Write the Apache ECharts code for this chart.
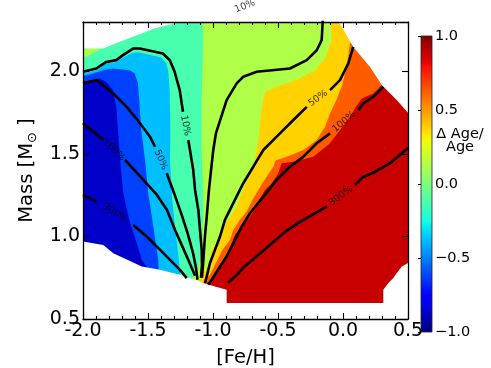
<!DOCTYPE html>
<html>
<head>
<meta charset="utf-8">
<script src="https://cdn.jsdelivr.net/npm/echarts@6/dist/echarts.min.js"></script>
<style>
  html, body { margin: 0; padding: 0; background: #fff; }
  #main { width: 491px; height: 368px; }
</style>
</head>
<body>
<div id="main"></div>
<script>
  // contourf levels of Δ Age/Age (8 bands)
  var levels = [-1.0, -0.75, -0.5, -0.25, 0.0, 0.25, 0.5, 0.75, 1.0];

  // filled regions, [Fe/H, Mass]
  var regionBelowM025 = [[-2.1, 1.99], [-2.0, 1.988], [-1.898, 2.008], [-1.821, 2.049], [-1.744, 2.058], [-1.692, 2.085], [-1.615, 2.115], [-1.564, 2.115], [-1.398, 2.085], [-1.359, 2.05], [-1.344, 1.998], [-1.333, 1.887], [-1.328, 1.645], [-1.331, 1.464], [-1.318, 1.262], [-1.292, 1.06], [-1.254, 0.798], [-1.24, 0.4], [-2.1, 0.4]];
  var regionBelowM050 = [[-2.1, 1.972], [-2.0, 1.972], [-1.923, 1.988], [-1.846, 2.008], [-1.769, 2.018], [-1.641, 2.008], [-1.602, 1.988], [-1.577, 1.928], [-1.564, 1.786], [-1.552, 1.645], [-1.523, 1.464], [-1.498, 1.262], [-1.459, 1.06], [-1.421, 0.859], [-1.4, 0.4], [-2.1, 0.4]];
  var regionBelowM075 = [[-2.1, 1.937], [-2.0, 1.937], [-1.872, 1.958], [-1.821, 1.937], [-1.769, 1.886], [-1.744, 1.786], [-1.731, 1.645], [-1.715, 1.464], [-1.7, 1.342], [-1.69, 1.262], [-1.638, 1.081], [-1.587, 0.96], [-1.548, 0.859], [-1.51, 0.818], [-1.5, 0.4], [-2.1, 0.4]];
  var regionAbove000 = [[-1.08, 2.4], [-1.087, 2.3], [-1.075, 2.23], [-1.087, 1.827], [-1.087, 1.524], [-1.079, 1.323], [-1.075, 1.121], [-1.087, 0.93], [-1.11, 0.81], [-1.15, 0.76], [-1.165, 0.727], [-1.17, 0.4], [0.6, 0.4], [0.6, 2.4]];
  var patchAbove000 = [[-2.1, 2.14], [-1.86, 2.14], [-1.95, 2.1], [-2.1, 2.05]];
  var regionAbove025 = [[-0.1, 2.4], [-0.1, 2.3], [-0.087, 2.19], [-0.138, 2.079], [-0.215, 2.008], [-0.356, 1.948], [-0.51, 1.907], [-0.6, 1.877], [-0.625, 1.786], [-0.651, 1.585], [-0.677, 1.464], [-0.69, 1.403], [-0.715, 1.383], [-0.779, 1.262], [-0.818, 1.181], [-0.882, 1.101], [-0.933, 1.04], [-0.959, 0.98], [-0.985, 0.95], [-1.01, 0.909], [-1.036, 0.828], [-1.075, 0.768], [-1.113, 0.727], [-1.12, 0.4], [0.6, 0.4], [0.6, 2.4]];
  var regionAbove050 = [[0.1, 2.4], [0.1, 2.3], [0.054, 2.17], [0.028, 2.028], [-0.01, 1.907], [-0.048, 1.832], [-0.1, 1.746], [-0.138, 1.665], [-0.202, 1.585], [-0.305, 1.524], [-0.433, 1.484], [-0.52, 1.46], [-0.536, 1.423], [-0.587, 1.363], [-0.651, 1.282], [-0.69, 1.232], [-0.741, 1.151], [-0.792, 1.101], [-0.844, 1.04], [-0.869, 0.98], [-0.93, 0.915], [-0.985, 0.828], [-1.023, 0.768], [-1.075, 0.718], [-1.09, 0.4], [0.6, 0.4], [0.6, 2.4]];
  var regionAbove075 = [[0.4, 2.1], [0.298, 1.918], [0.233, 1.867], [0.144, 1.837], [0.1, 1.786], [0.054, 1.726], [-0.023, 1.645], [-0.1, 1.565], [-0.228, 1.484], [-0.382, 1.453], [-0.472, 1.444], [-0.498, 1.383], [-0.548, 1.323], [-0.6, 1.282], [-0.638, 1.232], [-0.664, 1.181], [-0.715, 1.121], [-0.754, 1.081], [-0.792, 1.05], [-0.831, 1.01], [-0.856, 0.96], [-0.88, 0.91], [-0.933, 0.828], [-0.959, 0.788], [-1.01, 0.738], [-1.048, 0.718], [-1.06, 0.4], [0.6, 0.4], [0.6, 2.1]];

  // edge of the area covered by the grid of models
  var edgeTopLeft = [[-2.0, 2.139], [-1.846, 2.139], [-1.75, 2.17], [-1.6, 2.215], [-1.45, 2.26], [-1.256, 2.3]];
  var edgeTopRight = [[-0.04, 2.3], [-0.023, 2.29], [0.079, 2.149], [0.208, 2.028], [0.298, 1.918], [0.413, 1.827], [0.5, 1.75]];
  var edgeBottom = [[-2.0, 0.969], [-1.844, 0.949], [-1.767, 0.899], [-1.548, 0.818], [-1.408, 0.798], [-1.254, 0.768], [-1.138, 0.738], [-1.077, 0.718], [-0.985, 0.697], [-0.895, 0.677], [-0.895, 0.597], [0.31, 0.597], [0.31, 0.677], [0.349, 0.718], [0.387, 0.748], [0.413, 0.778], [0.452, 0.818], [0.5, 0.839]];

  // contour lines (null = break for the inline label)
  var contour10L = [[-2.0, 1.998], [-1.898, 2.018], [-1.821, 2.058], [-1.744, 2.069], [-1.692, 2.099], [-1.615, 2.139], [-1.564, 2.139], [-1.385, 2.109], [-1.333, 2.069], [-1.295, 1.998], [-1.256, 1.887], [-1.231, 1.756], null, [-1.19, 1.585], [-1.152, 1.403], [-1.138, 1.282], [-1.113, 1.161], [-1.1, 1.04], [-1.087, 0.919], [-1.085, 0.828], [-1.092, 0.75]];
  var contour50L = [[-2.0, 1.928], [-1.895, 1.948], [-1.767, 1.867], [-1.664, 1.786], [-1.562, 1.686], [-1.485, 1.605], [-1.446, 1.544], null, [-1.356, 1.383], [-1.3, 1.264], [-1.246, 1.143], [-1.196, 1.022], [-1.154, 0.901], [-1.131, 0.81], [-1.119, 0.738]];
  var contour100L = [[-2.0, 1.686], [-1.844, 1.585], null, [-1.677, 1.464], [-1.536, 1.343], [-1.431, 1.252], [-1.354, 1.161], [-1.292, 1.04], [-1.231, 0.931], [-1.177, 0.835], [-1.138, 0.762]];
  var contour300L = [[-2.0, 1.252], [-1.895, 1.211], null, [-1.613, 1.07], [-1.51, 1.0], [-1.382, 0.899], [-1.254, 0.798], [-1.202, 0.748]];
  var contour10R = [[-0.155, 2.32], [-0.164, 2.19], [-0.202, 2.129], [-0.279, 2.069], [-0.408, 2.018], [-0.664, 1.998], [-0.767, 1.968], [-0.818, 1.928], [-0.895, 1.827], [-0.977, 1.627], [-0.998, 1.524], [-1.015, 1.403], [-1.031, 1.282], [-1.048, 1.121], [-1.062, 1.0], [-1.069, 0.919], [-1.075, 0.847], [-1.085, 0.75]];
  var contour50R = [[0.079, 2.149], [0.041, 2.049], [-0.023, 1.948], [-0.1, 1.887], null, [-0.279, 1.786], [-0.382, 1.706], [-0.485, 1.625], [-0.613, 1.524], [-0.69, 1.423], [-0.767, 1.323], [-0.844, 1.202], [-0.908, 1.101], [-0.946, 1.0], [-0.985, 0.919], [-1.023, 0.839], [-1.048, 0.758], [-1.062, 0.718]];
  var contour100R = [[0.31, 1.907], [0.233, 1.847], [0.156, 1.807], [0.118, 1.766], null, [-0.1, 1.625], [-0.202, 1.565], [-0.305, 1.484], [-0.408, 1.423], [-0.51, 1.343], [-0.613, 1.242], [-0.715, 1.141], [-0.779, 1.06], [-0.831, 0.98], [-0.895, 0.879], [-0.946, 0.818], [-1.01, 0.738], [-1.036, 0.708]];
  var contour300R = [[0.5, 1.536], [0.362, 1.444], [0.246, 1.391], [0.156, 1.361], [0.092, 1.312], null, [-0.125, 1.181], [-0.331, 1.089], [-0.446, 1.028], [-0.562, 0.949], [-0.677, 0.871], [-0.769, 0.81], [-0.823, 0.762], [-0.885, 0.72]];

  // inline contour labels
  var labelPos = [[-1.212, 1.672], [-1.402, 1.464], [-1.762, 1.524], [-1.754, 1.143], [-0.192, 1.837], [0.008, 1.695], [-0.015, 1.246], [-0.754, 2.395]];
  var labelText = ['10%', '50%', '100%', '300%', '50%', '100%', '300%', '10%'];
  var labelAngle = [-79, -66, -43, -32, 36, 40, 37, 22];

  // matplotlib 'jet'
  var jetR = [[0, 0], [0.35, 0], [0.66, 1], [0.89, 1], [1, 0.5]];
  var jetG = [[0, 0], [0.125, 0], [0.375, 1], [0.64, 1], [0.91, 0], [1, 0]];
  var jetB = [[0, 0.5], [0.11, 1], [0.34, 1], [0.65, 0], [1, 0]];
  function seg(pts, t) {
    for (var i = 1; i < pts.length; i++) {
      if (t <= pts[i][0]) {
        var a = pts[i - 1], b = pts[i];
        return a[1] + (b[1] - a[1]) * (t - a[0]) / (b[0] - a[0]);
      }
    }
    return pts[pts.length - 1][1];
  }
  function jet(t) {
    return 'rgb(' + [seg(jetR, t), seg(jetG, t), seg(jetB, t)].map(function (v) {
      return Math.round(v * 255);
    }).join(',') + ')';
  }
  var bandColors = [];
  for (var k = 0; k < levels.length - 1; k++) {
    bandColors.push(jet(((levels[k] + levels[k + 1]) / 2 + 1) / 2));
  }

  // paint order: lower bands on the left, upper bands on the right, then blank out
  var fills = [
    [regionBelowM025, bandColors[2]],
    [regionBelowM050, bandColors[1]],
    [regionBelowM075, bandColors[0]],
    [regionAbove000, bandColors[4]],
    [patchAbove000, bandColors[4]],
    [regionAbove025, bandColors[5]],
    [regionAbove050, bandColors[6]],
    [regionAbove075, bandColors[7]],
    [[[-2.1, 2.4], [-2.1, edgeTopLeft[0][1]]].concat(edgeTopLeft, [[edgeTopLeft[edgeTopLeft.length - 1][0], 2.4]]), '#fff'],
    [[[edgeTopRight[0][0], 2.4]].concat(edgeTopRight, [[0.6, edgeTopRight[edgeTopRight.length - 1][1]], [0.6, 2.4]]), '#fff'],
    [[[-2.1, edgeBottom[0][1]]].concat(edgeBottom, [[0.6, edgeBottom[edgeBottom.length - 1][1]], [0.6, 0.4], [-2.1, 0.4]]), '#fff']
  ];

  var font = 'DejaVu Sans';
  var series = [];

  series.push({
    type: 'custom',
    xAxisIndex: 0,
    yAxisIndex: 0,
    clip: true,
    silent: true,
    z: 1,
    data: [[-1, 1]],
    renderItem: function (params, api) {
      return {
        type: 'group',
        children: fills.map(function (f) {
          return {
            type: 'polygon',
            shape: { points: f[0].map(function (p) { return api.coord(p); }) },
            style: { fill: f[1], stroke: null }
          };
        })
      };
    }
  });

  [contour10L, contour50L, contour100L, contour300L, contour10R, contour50R, contour100R, contour300R].forEach(function (c) {
    var part = [];
    c.concat([null]).forEach(function (p) {
      if (p === null) {
        if (part.length) {
          series.push({
            type: 'line',
            xAxisIndex: 0,
            yAxisIndex: 0,
            data: part,
            showSymbol: false,
            symbol: 'none',
            clip: true,
            silent: true,
            z: 3,
            lineStyle: { color: '#000', width: 2.6 }
          });
        }
        part = [];
      } else {
        part.push(p);
      }
    });
  });

  series.push({
    type: 'scatter',
    xAxisIndex: 0,
    yAxisIndex: 0,
    clip: false,
    silent: true,
    z: 4,
    symbolSize: 1,
    itemStyle: { color: 'rgba(0,0,0,0)' },
    data: labelPos.map(function (p, i) {
      return {
        value: p,
        label: { show: true, position: 'inside', formatter: labelText[i], rotate: labelAngle[i] }
      };
    }),
    label: { show: true, color: '#000', fontSize: 9.5, fontFamily: font }
  });

  // colour bar
  var cbStops = [];
  for (var i = 0; i <= 64; i++) {
    cbStops.push({ offset: i / 64, color: jet(1 - i / 64) });
  }
  series.push({
    type: 'custom',
    xAxisIndex: 2,
    yAxisIndex: 2,
    silent: true,
    data: [[0.5, 0]],
    renderItem: function (params, api) {
      var a = api.coord([0, 1]);
      var b = api.coord([1, -1]);
      return {
        type: 'rect',
        shape: { x: a[0], y: a[1], width: b[0] - a[0], height: b[1] - a[1] },
        style: { fill: new echarts.graphic.LinearGradient(0, 0, 0, 1, cbStops), stroke: '#222', lineWidth: 0.8 }
      };
    }
  });

  var frameAxis = {
    axisLine: { show: true, onZero: false, lineStyle: { color: '#000', width: 1.3 } },
    axisTick: { show: true, inside: true, length: 6, lineStyle: { color: '#000', width: 1.1 } },
    splitLine: { show: false },
    z: 10
  };
  var tickLabel = { color: '#000', fontSize: 19, fontFamily: font, margin: 3, formatter: function (v) { return v.toFixed(1); } };

  var option = {
    animation: false,
    textStyle: { fontFamily: font },
    grid: [
      { left: 83, right: 83, top: 22, bottom: 49, show: true, backgroundColor: bandColors[3], borderWidth: 0, outerBoundsMode: 'none' },
      { left: 421, width: 11, top: 36, height: 296, outerBoundsMode: 'none' }
    ],
    xAxis: [
      Object.assign({
        gridIndex: 0, type: 'value', position: 'bottom', min: -2, max: 0.5, interval: 0.5,
        minorTick: { show: true, splitNumber: 5, length: 3, lineStyle: { color: '#000', width: 1.1 } },
        axisLabel: tickLabel,
        name: '[Fe/H]', nameLocation: 'middle', nameGap: 29,
        nameTextStyle: { color: '#000', fontSize: 19.5, fontFamily: font }
      }, frameAxis),
      Object.assign({
        gridIndex: 0, type: 'value', position: 'top', min: -2, max: 0.5, interval: 0.5,
        minorTick: { show: true, splitNumber: 5, length: 3, lineStyle: { color: '#000', width: 1.1 } },
        axisLabel: { show: false }
      }, frameAxis),
      { gridIndex: 1, type: 'value', min: 0, max: 1, show: false }
    ],
    yAxis: [
      Object.assign({
        gridIndex: 0, type: 'value', position: 'left', min: 0.5, max: 2.3, interval: 0.5,
        axisLabel: Object.assign({ showMaxLabel: false }, tickLabel),
        name: '{a|Mass [M}{b|\u2299}{a| ]}', nameLocation: 'middle', nameGap: 33, nameRotate: 90,
        nameTextStyle: {
          rich: {
            a: { color: '#000', fontSize: 19.5, fontFamily: font, lineHeight: 24 },
            b: { color: '#000', fontSize: 13, fontFamily: font, verticalAlign: 'bottom', lineHeight: 24 }
          }
        }
      }, frameAxis),
      Object.assign({
        gridIndex: 0, type: 'value', position: 'right', min: 0.5, max: 2.3, interval: 0.5,
        axisLabel: { show: false }
      }, frameAxis),
      {
        gridIndex: 1, type: 'value', position: 'right', min: -1, max: 1, interval: 0.5,
        axisLine: { show: false },
        axisTick: { show: true, inside: true, length: 3, lineStyle: { color: '#000', width: 1 } },
        splitLine: { show: false },
        axisLabel: {
          color: '#000', fontSize: 14.5, fontFamily: font, margin: 3,
          formatter: function (v) { return (v < 0 ? '\u2212' : '') + Math.abs(v).toFixed(1); }
        },
        z: 10
      }
    ],
    graphic: [{
      type: 'text',
      x: 460,
      y: 128,
      style: { text: '\u0394 Age/\nAge', textAlign: 'center', fill: '#000', fontSize: 14.5, fontFamily: font, lineHeight: 13 }
    }],
    series: series
  };

  echarts.init(document.getElementById('main')).setOption(option);
</script>
</body>
</html>
